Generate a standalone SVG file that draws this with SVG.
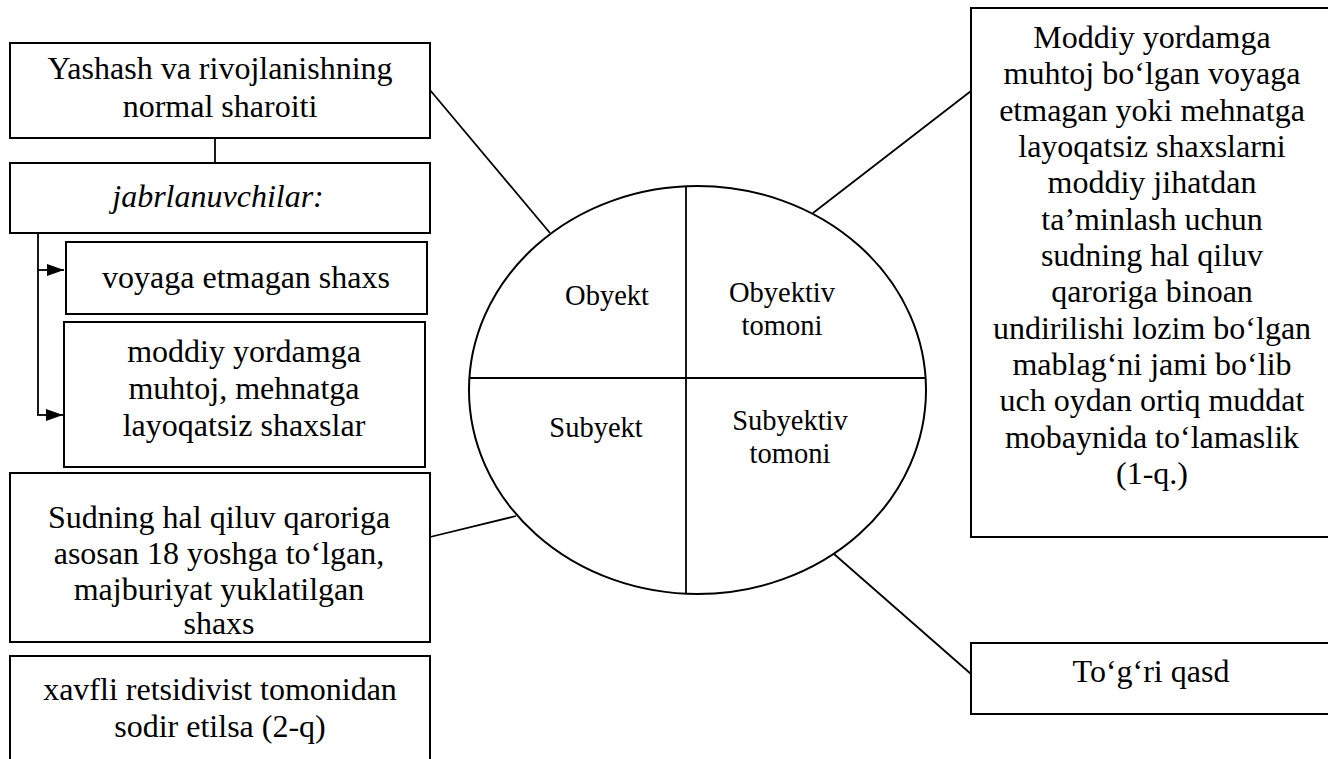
<svg xmlns="http://www.w3.org/2000/svg" width="1328" height="759" viewBox="0 0 1328 759">
<style>
  .box { fill: #fff; stroke: #000; stroke-width: 2; }
  .ln { fill: none; stroke: #000; stroke-width: 1.8; }
  text { font-family: "Liberation Serif", "Times New Roman", "DejaVu Serif", serif; font-size: 32px; fill: #000; text-anchor: middle; }
  .sm { font-size: 28.5px; }
  .it { font-style: italic; }
</style>
<defs>
  <marker id="arr" markerWidth="17" markerHeight="12" refX="17" refY="6" orient="auto" markerUnits="userSpaceOnUse" viewBox="0 0 17 12">
    <path d="M0,0 L17,6 L0,12 Z" fill="#000"/>
  </marker>
</defs>
<rect width="1328" height="759" fill="#fff"/>

<g id="connectors">
  <line class="ln" x1="215" y1="138" x2="215" y2="163"/>
  <line class="ln" x1="38" y1="233" x2="38" y2="415"/>
  <line class="ln" x1="37.1" y1="270" x2="64" y2="270" marker-end="url(#arr)"/>
  <line class="ln" x1="37.1" y1="415" x2="63" y2="415" marker-end="url(#arr)"/>
  <line class="ln" x1="430" y1="90" x2="550" y2="233"/>
  <line class="ln" x1="971" y1="91" x2="813" y2="213"/>
  <line class="ln" x1="430" y1="537" x2="516" y2="516"/>
  <line class="ln" x1="834" y1="554" x2="971" y2="674"/>
</g>

<g id="node-yashash">
  <rect class="box" x="10" y="43" width="420" height="95"/>
  <text x="220" y="79">Yashash va rivojlanishning</text>
  <text x="220" y="117">normal sharoiti</text>
</g>

<g id="node-jabrlanuvchilar">
  <rect class="box" x="10" y="163" width="420" height="70"/>
  <text class="it" x="218" y="207">jabrlanuvchilar:</text>
</g>

<g id="node-voyaga">
  <rect class="box" x="66" y="242" width="361" height="72"/>
  <text x="246" y="288">voyaga etmagan shaxs</text>
</g>

<g id="node-moddiy">
  <rect class="box" x="64" y="322" width="361" height="145"/>
  <text x="244" y="362">moddiy yordamga</text>
  <text x="244" y="399">muhtoj, mehnatga</text>
  <text x="244" y="436">layoqatsiz shaxslar</text>
</g>

<g id="node-sudning">
  <rect class="box" x="10" y="473" width="420" height="169"/>
  <text x="219" y="528">Sudning hal qiluv qaroriga</text>
  <text x="219" y="564">asosan 18 yoshga to‘lgan,</text>
  <text x="219" y="600">majburiyat yuklatilgan</text>
  <text x="219" y="634">shaxs</text>
</g>

<g id="node-xavfli">
  <rect class="box" x="10" y="656" width="420" height="120"/>
  <text x="220" y="700">xavfli retsidivist tomonidan</text>
  <text x="220" y="737">sodir etilsa (2-q)</text>
</g>

<g id="node-ellipse">
  <ellipse class="box" cx="697.5" cy="390" rx="228.5" ry="204"/>
  <line class="ln" x1="686" y1="186" x2="686" y2="594"/>
  <line class="ln" x1="469" y1="378" x2="926" y2="378"/>
  <text class="sm" x="607" y="305">Obyekt</text>
  <text class="sm" x="782" y="302">Obyektiv</text>
  <text class="sm" x="782" y="335">tomoni</text>
  <text class="sm" x="596" y="437">Subyekt</text>
  <text class="sm" x="790" y="430">Subyektiv</text>
  <text class="sm" x="790" y="463">tomoni</text>
</g>

<g id="node-right">
  <rect class="box" x="971" y="8" width="362" height="529"/>
  <text x="1152" y="48">Moddiy yordamga</text>
  <text x="1152" y="84">muhtoj bo‘lgan voyaga</text>
  <text x="1152" y="121">etmagan yoki mehnatga</text>
  <text x="1152" y="157">layoqatsiz shaxslarni</text>
  <text x="1152" y="193">moddiy jihatdan</text>
  <text x="1152" y="230">ta’minlash uchun</text>
  <text x="1152" y="266">sudning hal qiluv</text>
  <text x="1152" y="302">qaroriga binoan</text>
  <text x="1152" y="339">undirilishi lozim bo‘lgan</text>
  <text x="1152" y="375">mablag‘ni jami bo‘lib</text>
  <text x="1152" y="411">uch oydan ortiq muddat</text>
  <text x="1152" y="448">mobaynida to‘lamaslik</text>
  <text x="1152" y="484">(1-q.)</text>
</g>

<g id="node-togri">
  <rect class="box" x="971" y="643" width="362" height="71"/>
  <text x="1151" y="682">To‘g‘ri qasd</text>
</g>
</svg>
